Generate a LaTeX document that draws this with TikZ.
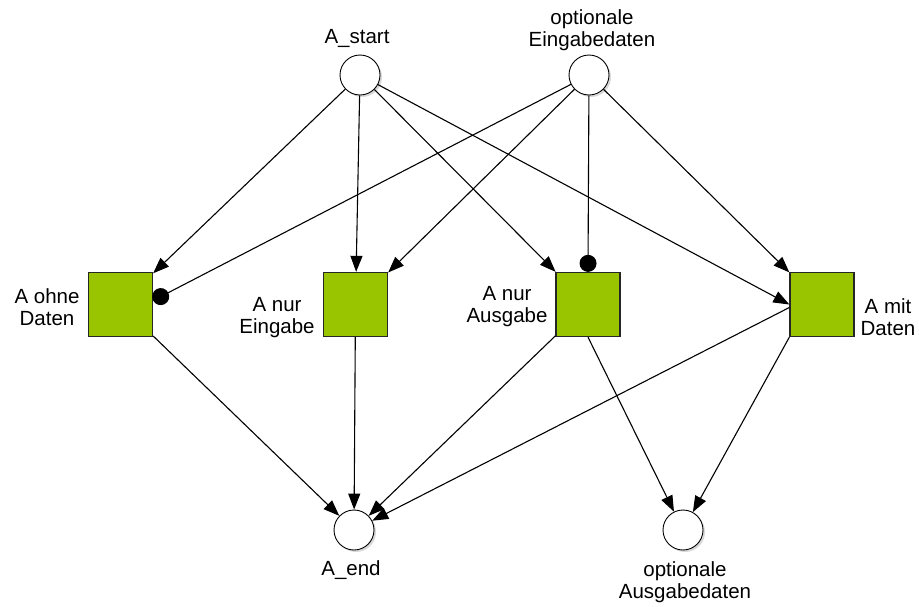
\documentclass[tikz,border=0pt]{standalone}
\usepackage{fontspec}
\setmainfont{Liberation Sans}
\usetikzlibrary{arrows.meta,shadows}
\definecolor{transgreen}{HTML}{99C400}
\begin{document}
\begin{tikzpicture}[x=1pt,y=1pt,
  place/.style={circle,draw=black,line width=0.9pt,fill=white,minimum size=40pt,inner sep=0pt,
    drop shadow={shadow xshift=2pt,shadow yshift=-2pt,fill=black!25,opacity=0.6}},
  trans/.style={rectangle,draw=black!85,line width=1.3pt,fill=transgreen,minimum size=64pt,inner sep=0pt},
  lbl/.style={font=\fontsize{20.5}{22}\selectfont,align=center,inner sep=0pt},
  arc/.style={line width=1.1pt,-{Triangle[length=16pt,width=12pt]}},
  readarc/.style={line width=1.1pt,-{Circle[length=17pt]}}]
  \useasboundingbox (0,0) rectangle (919,-606);

  % places
  \node[place] (sA) at (360,-75) {};
  \node[place] (sE) at (589,-75) {};
  \node[place] (eA) at (354,-530) {};
  \node[place] (oA) at (683,-530) {};

  % transitions
  \node[trans] (tO) at (120.5,-304.5) {};
  \node[trans] (tE) at (355.5,-304.5) {};
  \node[trans] (tA) at (588,-304.5) {};
  \node[trans] (tM) at (822,-304.5) {};

  % labels
  \node[lbl] (lsA) at (357,-38) {A\_start};
  \node[lbl] (lsE) at (592,-30) {optionale\\Eingabedaten};
  \node[lbl] (leA) at (351,-570) {A\_end};
  \node[lbl] (loA) at (685,-582) {optionale\\Ausgabedaten};
  \node[lbl] (ltO) at (47,-307) {A ohne\\Daten};
  \node[lbl] (ltE) at (277,-318) {A nur\\Eingabe};
  \node[lbl] (ltA) at (507,-307) {A nur\\Ausgabe};
  \node[lbl] (ltM) at (888,-317) {A mit\\Daten};

  % arcs from A_start
  \draw[arc] (sA) -- (tO);
  \draw[arc] (sA) -- (tE);
  \draw[arc] (sA) -- (tA);
  \draw[arc] (sA) -- (tM.west);

  % arcs from the optional input data
  \draw[readarc] (sE) -- ([yshift=4pt]tO.east);
  \draw[arc] (sE) -- (tE);
  \draw[readarc] (sE) -- (tA.north);
  \draw[arc] (sE) -- (tM);

  % arcs into A_end
  \draw[arc] (tO) -- (eA);
  \draw[arc] (tE) -- (eA);
  \draw[arc] (tA) -- (eA);
  \draw[arc] ([yshift=-3pt]tM.west) -- (eA);

  % arcs into the optional output data
  \draw[arc] (tA.south) -- (oA);
  \draw[arc] (tM.south west) -- (oA);
\end{tikzpicture}
\end{document}
